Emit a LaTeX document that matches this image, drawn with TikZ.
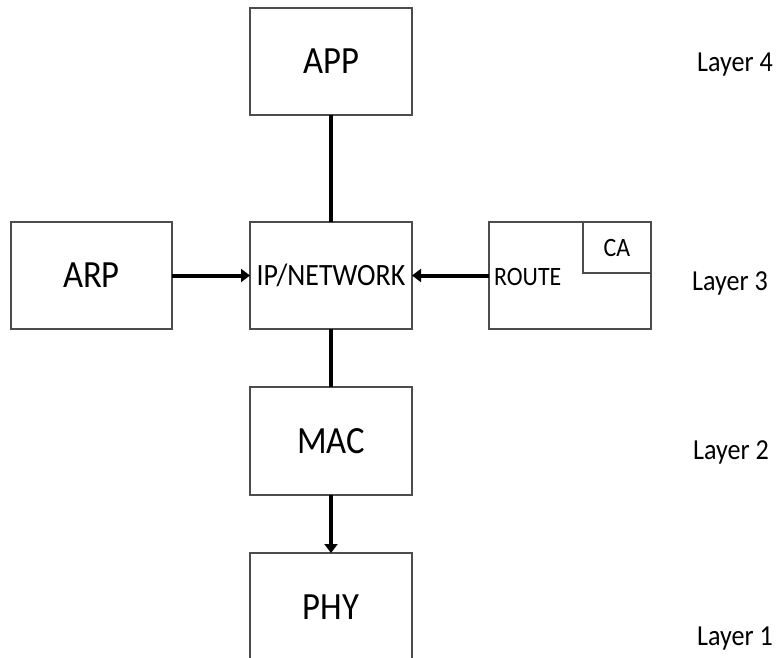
\documentclass[tikz,border=0pt]{standalone}
\usepackage{fontspec}
\setmainfont{Carlito}[FakeStretch=0.9]
\usetikzlibrary{arrows.meta}
\begin{document}
\begin{tikzpicture}[x=1pt,y=-1pt,
  boxline/.style={draw=black!70, line width=1.2pt},
  box/.style={boxline, minimum width=162pt, minimum height=107pt, inner sep=0pt, outer sep=0pt},
  conn/.style={line width=4pt, black},
  arr/.style={conn, -{Triangle[length=9pt,width=13pt]}},
  big/.style={font=\fontsize{38.5}{42}\selectfont},
  mid/.style={font=\fontsize{31}{34}\selectfont},
  small/.style={font=\fontsize{26.5}{29}\selectfont},
  layer/.style={font=\fontsize{29}{32}\selectfont, anchor=base west, inner sep=0pt}
]
\useasboundingbox (0,0) rectangle (777,658);
\fill[white] (0,0) rectangle (777,658);

\node[box, big] (app) at (331,61.5) {APP};
\node[box, big, minimum width=161pt] (arp) at (91.5,275.5) {ARP};
\node[box, mid] (ip) at (331,275.5) {IP/NETWORK};
\node[box] (route) at (570,275.5) {};
\node[box, small, minimum width=68pt, minimum height=51pt, anchor=north east] (ca) at (route.north east) {CA};
\node[small, anchor=west, inner sep=0pt] (routetext) at (494,277) {ROUTE};
\node[box, big, minimum height=108pt] (mac) at (331,441) {MAC};
\node[minimum width=162pt, minimum height=117pt, inner sep=0pt, outer sep=0pt, anchor=north] (phy) at (331,553) {};
\draw[boxline] (phy.south west) -- (phy.north west) -- (phy.north east) -- (phy.south east);
\node[big] (phytext) at (331,607.5) {PHY};

\draw[conn] (app) -- (ip);
\draw[arr] (arp) -- (ip);
\draw[arr] (route) -- (ip);
\draw[conn] (ip) -- (mac);
\draw[arr] (mac) -- (phy);

\node[layer] (l4) at (697,72) {Layer 4};
\node[layer] (l3) at (692,290) {Layer 3};
\node[layer] (l2) at (693,459) {Layer 2};
\node[layer] (l1) at (697,645) {Layer 1};
\end{tikzpicture}
\end{document}
